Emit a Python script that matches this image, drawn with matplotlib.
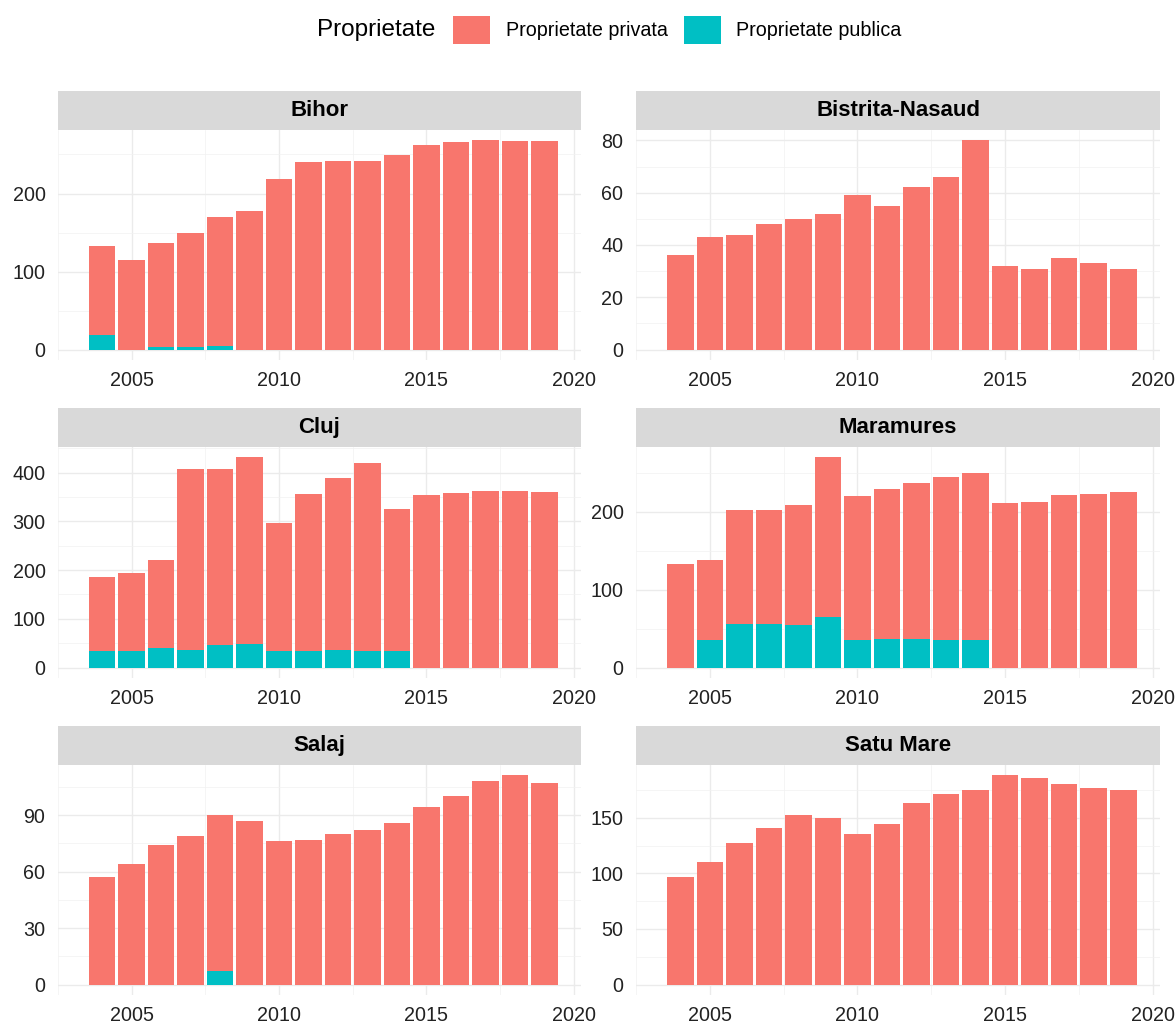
import numpy as np
import matplotlib
matplotlib.use("Agg")
import matplotlib.pyplot as plt
from matplotlib.patches import Patch

plt.rcParams['font.family'] = ['Liberation Sans', 'DejaVu Sans']

years = list(range(2004, 2020))

# total height of each stacked bar (privata + publica) and the public part
bihor_total = [133, 115, 137, 150, 170, 177, 219, 241, 242, 242, 249, 262, 266, 268, 267, 267]
bihor_pub = [19, 0, 3, 3, 4, 0, 0, 0, 0, 0, 0, 0, 0, 0, 0, 0]

bistrita_total = [36, 43, 44, 48, 50, 52, 59, 55, 62, 66, 80, 32, 31, 35, 33, 31]
bistrita_pub = [0] * 16

cluj_total = [185, 193, 221, 407, 407, 431, 296, 357, 388, 420, 326, 355, 359, 362, 362, 360]
cluj_pub = [34, 34, 40, 35, 47, 48, 34, 34, 35, 34, 34, 0, 0, 0, 0, 0]

maramures_total = [133, 138, 202, 202, 209, 270, 221, 230, 237, 245, 250, 212, 213, 222, 223, 226]
maramures_pub = [0, 36, 56, 56, 55, 65, 36, 37, 37, 35, 35, 0, 0, 0, 0, 0]

salaj_total = [57, 64, 74, 79, 90, 87, 76, 77, 80, 82, 86, 94, 100, 108, 111, 107]
salaj_pub = [0, 0, 0, 0, 7, 0, 0, 0, 0, 0, 0, 0, 0, 0, 0, 0]

satumare_total = [97, 110, 127, 141, 152, 150, 135, 144, 163, 171, 175, 188, 186, 180, 177, 175]
satumare_pub = [0] * 16

judete = ["Bihor", "Bistrita-Nasaud", "Cluj", "Maramures", "Salaj", "Satu Mare"]
totals = [bihor_total, bistrita_total, cluj_total, maramures_total, salaj_total, satumare_total]
publics = [bihor_pub, bistrita_pub, cluj_pub, maramures_pub, salaj_pub, satumare_pub]
yticks = [[0, 100, 200], [0, 20, 40, 60, 80], [0, 100, 200, 300, 400],
          [0, 100, 200], [0, 30, 60, 90], [0, 50, 100, 150]]
xticks = [2005, 2010, 2015, 2020]

c_priv = '#F8766D'
c_pub = '#00BFC4'

W, H = 1176, 1030
fig = plt.figure(figsize=(W / 100, H / 100), dpi=100)
fig.patch.set_facecolor('white')

# panel boxes in pixels: (left, right) and (top, bottom)
cols = [(58, 581), (636, 1160)]
rows = [(130, 360), (447, 678), (765, 995)]
strip_h = 39

for k, name in enumerate(judete):
    r, c = divmod(k, 2)
    x0, x1 = cols[c]
    y0, y1 = rows[r]
    ax = fig.add_axes([x0 / W, 1 - y1 / H, (x1 - x0) / W, (y1 - y0) / H])
    tot = np.array(totals[k], dtype=float)
    pub = np.array(publics[k], dtype=float)
    priv = tot - pub
    ax.bar(years, pub, width=0.9, color=c_pub, zorder=2)
    ax.bar(years, priv, width=0.9, bottom=pub, color=c_priv, zorder=2)

    top = tot.max()
    ax.set_ylim(-0.05 * top, top * 1.05)
    ax.set_xlim(2003.55 - 0.795, 2019.45 + 0.795)
    ax.set_xticks(xticks)
    ax.set_yticks(yticks[k])
    ax.set_xticks([2002.5, 2007.5, 2012.5, 2017.5], minor=True)
    yt = yticks[k]
    step = yt[1] - yt[0]
    ax.set_yticks([v + step / 2 for v in yt if v + step / 2 < top * 1.05], minor=True)
    ax.grid(True, which='major', color='#EBEBEB', lw=1.0, zorder=0)
    ax.grid(True, which='minor', color='#F2F2F2', lw=0.5, zorder=0)
    for s in ax.spines.values():
        s.set_visible(False)
    ax.tick_params(which='both', length=0)
    ax.tick_params(axis='both', labelsize=14.2, labelcolor='#222222')
    ax.tick_params(axis='y', pad=9)
    ax.tick_params(axis='x', pad=8)
    ax.set_axisbelow(True)

    # strip above the panel
    sax = fig.add_axes([x0 / W, 1 - y0 / H, (x1 - x0) / W, strip_h / H])
    sax.set_facecolor('#D9D9D9')
    sax.set_xticks([])
    sax.set_yticks([])
    for s in sax.spines.values():
        s.set_visible(False)
    sax.text(0.5, 0.5, name, ha='center', va='center', fontsize=16,
             fontweight='bold', color='black', transform=sax.transAxes)

# legend at the top
fig.text(317 / W, 1 - 30 / H, "Proprietate", fontsize=17.5, va='center', ha='left')
handles = [Patch(facecolor=c_priv, edgecolor='none', label='Proprietate privata'),
           Patch(facecolor=c_pub, edgecolor='none', label='Proprietate publica')]
fig.legend(handles=handles, loc='center left', bbox_to_anchor=(453 / W, 1 - 30 / H),
           ncol=2, frameon=False, fontsize=14.2, handlelength=1.88, handleheight=1.88,
           handletextpad=0.8, columnspacing=0.8, borderpad=0, borderaxespad=0)

fig.savefig('out.png', dpi=100, facecolor='white')
